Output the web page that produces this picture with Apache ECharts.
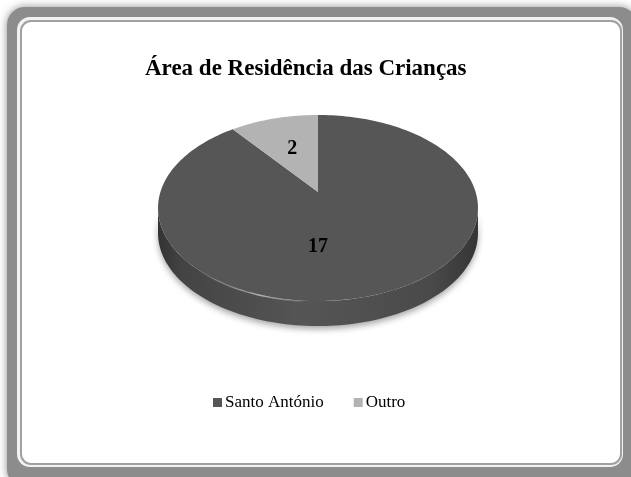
<!DOCTYPE html>
<html>
<head>
<meta charset="utf-8">
<script src="https://cdn.jsdelivr.net/npm/echarts@6/dist/echarts.min.js"></script>
<style>
  html, body { margin: 0; padding: 0; background: #fff; }
  #main { width: 631px; height: 477px; }
</style>
</head>
<body>
<div id="main"></div>
<script>
// dados do gráfico
const categories = ["Santo António", "Outro"];
const values = [17, 2];
const sliceColors = ["#565656", "#b3b3b3"];
const chartTitle = "Área de Residência das Crianças";

// geometria da pizza 3D (perspectiva simples)
const CX = 318, CY = 192;   // vértice da pizza
const A = 90.3, B = 157.6;  // raios vertical / horizontal
const P = 0.172;            // perspectiva
const T = 25;               // espessura
const FONT = '"Liberation Serif", "Times New Roman", serif';

const total = values.reduce((s, v) => s + v, 0);
const starts = [];
values.reduce((acc, v, i) => { starts[i] = acc; return acc + v; }, 0);

function proj(rho, th, dy) {
  const u = rho * Math.sin(th), v = -rho * Math.cos(th);
  const d = 1 - P * v;
  return [CX + B * u / d, CY + A * v / d + (dy || 0)];
}

function arc(a0, a1, dy) {
  const pts = [];
  const n = Math.max(2, Math.ceil((a1 - a0) / (Math.PI / 120)));
  for (let k = 0; k <= n; k++) pts.push(proj(1, a0 + (a1 - a0) * k / n, dy));
  return pts;
}

// faixa frontal visível da lateral
const F0 = Math.acos(-P), F1 = 2 * Math.PI - Math.acos(-P);

function makeRender(i) {
  return function (params, api) {
    const a0 = starts[i] / total * 2 * Math.PI;
    const a1 = (starts[i] + values[i]) / total * 2 * Math.PI;
    const children = [];

    // lateral
    const w0 = Math.max(a0, F0), w1 = Math.min(a1, F1);
    if (w0 < w1) {
      const top = arc(w0, w1, 0);
      const bot = arc(w0, w1, T).reverse();
      children.push({
        type: "polygon",
        shape: { points: top.concat(bot) },
        style: {
          fill: {
            type: "linear", x: CX - 160, y: 0, x2: CX + 160, y2: 0, global: true,
            colorStops: [
              { offset: 0, color: "#333333" },
              { offset: 0.08, color: "#444444" },
              { offset: 0.45, color: "#555555" },
              { offset: 0.85, color: "#4a4a4a" },
              { offset: 1, color: "#353535" }
            ]
          },
          shadowBlur: 6,
          shadowOffsetY: 3,
          shadowColor: "rgba(0,0,0,0.35)"
        }
      });
      // brilho na borda frontal
      const h0 = Math.max(w0, 185 / 180 * Math.PI), h1 = Math.min(w1, 240 / 180 * Math.PI);
      if (h0 < h1) {
        children.push({
          type: "polyline",
          shape: { points: arc(h0, h1, 0.5) },
          style: {
            fill: null,
            lineWidth: 1.5,
            stroke: {
              type: "linear", x: CX - 120, y: 0, x2: CX, y2: 0, global: true,
              colorStops: [
                { offset: 0, color: "rgba(255,255,255,0)" },
                { offset: 0.5, color: "rgba(255,255,255,0.55)" },
                { offset: 1, color: "rgba(255,255,255,0)" }
              ]
            }
          }
        });
      }
    }

    // face superior
    children.push({
      type: "polygon",
      shape: { points: [proj(0, 0)].concat(arc(a0, a1, 0)) },
      style: { fill: sliceColors[i] }
    });

    // rótulo
    const mid = (a1 - a0) > Math.PI ? Math.PI : (a0 + a1) / 2;
    const lp = proj(0.55, mid);
    children.push({
      type: "text",
      style: {
        text: String(values[i]),
        x: lp[0], y: lp[1],
        align: "center", verticalAlign: "middle",
        fontSize: 20, fontWeight: "bold", fontFamily: FONT,
        fill: "#000"
      }
    });

    return { type: "group", children: children };
  };
}

const chart = echarts.init(document.getElementById("main"), null, { renderer: "canvas" });

chart.setOption({
  animation: false,
  title: {
    text: chartTitle,
    left: 145,
    top: 58,
    padding: 0,
    textStyle: { fontFamily: FONT, fontSize: 23, fontWeight: "bold", color: "#000" }
  },
  legend: {
    data: categories,
    left: 213,
    top: 394,
    padding: 0,
    icon: "rect",
    itemWidth: 9,
    itemHeight: 9,
    itemGap: 30,
    textStyle: { fontFamily: FONT, fontSize: 17, color: "#000", padding: [0, 0, 0, -2] }
  },
  graphic: [
    {
      type: "rect", z: 0,
      shape: { x: 7, y: 7, width: 630, height: 480, r: 18 },
      style: { fill: "#8c8c8c", shadowBlur: 8, shadowColor: "rgba(0,0,0,0.45)" }
    },
    {
      type: "rect", z: 0,
      shape: { x: 17, y: 17, width: 606, height: 450, r: 13 },
      style: { fill: "#f2f2f2" }
    },
    {
      type: "rect", z: 0,
      shape: { x: 21, y: 21, width: 600, height: 443, r: 10 },
      style: { fill: "#ffffff", stroke: "#a0a0a0", lineWidth: 2 }
    }
  ],
  series: categories.map((name, i) => ({
    type: "custom",
    name: name,
    coordinateSystem: "none",
    itemStyle: { color: sliceColors[i] },
    renderItem: makeRender(i),
    data: [[values[i]]],
    silent: true
  }))
});
</script>
</body>
</html>
